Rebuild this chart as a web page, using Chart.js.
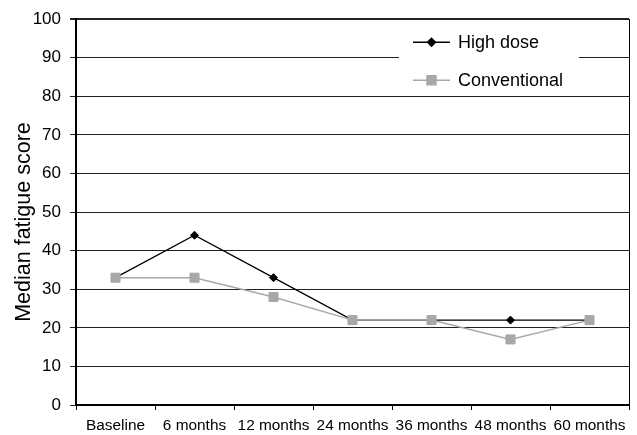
<!DOCTYPE html>
<html>
<head>
<meta charset="utf-8">
<script src="https://cdn.jsdelivr.net/npm/chart.js@4"></script>
<style>
  html,body{margin:0;padding:0;background:#fff;}
  #wrap{width:637px;height:435px;position:relative;}
</style>
</head>
<body>
<div id="wrap"><canvas id="c"></canvas></div>
<script>
// ── Data ──────────────────────────────────────────────────────────────────────
const categories   = ['Baseline','6 months','12 months','24 months','36 months','48 months','60 months'];
const highDose     = [33, 44, 33, 22, 22, 22, 22];
const conventional = [33, 33, 28, 22, 22, 17, 22];
const yMin = 0, yMax = 100, yStep = 10;
const yTitle = 'Median fatigue score';

const FONT = '"Liberation Sans", Arial, Helvetica, sans-serif';
const BLACK = '#000', GREY = '#a8a8a8';

// ── Legend drawn inside the plot (top right, white box over the grid) ─────────
const insideLegend = {
  id: 'insideLegend',
  beforeDatasetsDraw(chart) {
    const ctx = chart.ctx, ca = chart.chartArea;
    const bx = ca.right - 230, by = ca.top + 4, bw = 180, bh = 72;
    ctx.save();
    ctx.fillStyle = '#fff';
    ctx.fillRect(bx, by, bw, bh);
    const items = [
      { text: 'High dose',    color: BLACK, style: 'rectRot', r: 4 },
      { text: 'Conventional', color: GREY,  style: 'rect',    r: 6.4 }
    ];
    items.forEach((it, i) => {
      const y = by + 19 + i * 38, x0 = bx + 14, x1 = bx + 51;
      ctx.strokeStyle = it.color; ctx.lineWidth = 1.4;
      ctx.beginPath(); ctx.moveTo(x0, y); ctx.lineTo(x1, y); ctx.stroke();
      ctx.fillStyle = it.color;
      Chart.helpers.drawPoint(ctx, { pointStyle: it.style, radius: it.r, borderWidth: 1 }, (x0 + x1) / 2, y);
      ctx.fillStyle = '#000';
      ctx.font = '18px ' + FONT;
      ctx.textAlign = 'left'; ctx.textBaseline = 'middle';
      ctx.fillText(it.text, x1 + 8, y + 1);
    });
    ctx.restore();
  }
};

// ── Y title, centred a little below the plot middle as in the source ─────────
const yTitlePlugin = {
  id: 'yTitlePlugin',
  afterDraw(chart) {
    const ctx = chart.ctx;
    ctx.save();
    ctx.translate(24, 222);
    ctx.rotate(-Math.PI / 2);
    ctx.fillStyle = '#000';
    ctx.font = '21.5px ' + FONT;
    ctx.textAlign = 'center'; ctx.textBaseline = 'middle';
    ctx.fillText(yTitle, 0, 0);
    ctx.restore();
  }
};

new Chart(document.getElementById('c').getContext('2d'), {
  type: 'line',
  data: {
    labels: categories,
    datasets: [
      { label: 'High dose', data: highDose, order: 1,
        borderColor: BLACK, backgroundColor: BLACK, borderWidth: 1.3,
        pointStyle: 'rectRot', pointRadius: 4, pointBorderWidth: 1, tension: 0 },
      { label: 'Conventional', data: conventional, order: 0,
        borderColor: GREY, backgroundColor: GREY, borderWidth: 1.5,
        pointStyle: 'rect', pointRadius: 6.4, pointBorderWidth: 1, tension: 0 }
    ]
  },
  options: {
    responsive: true,
    maintainAspectRatio: false,
    animation: false,
    layout: { padding: { top: 18, right: 8, bottom: 0, left: 0 } },
    plugins: { legend: { display: false }, tooltip: { enabled: false } },
    scales: {
      x: {
        offset: true,
        grid: { display: true, offset: true, drawOnChartArea: false, drawTicks: true, tickLength: 5, color: BLACK, lineWidth: 1 },
        border: { display: true, color: BLACK, width: 2 },
        ticks: { color: '#000', font: { family: FONT, size: 15.4 }, padding: 7, maxRotation: 0, autoSkip: false },
        afterFit: s => { s.height = 30; }
      },
      y: {
        min: yMin, max: yMax,
        grid: { color: '#222', lineWidth: c => (c.tick && c.tick.value === yMax ? 2 : 1), tickLength: 6 },
        border: { display: true, color: BLACK, width: 2 },
        ticks: { stepSize: yStep, color: '#000', font: { family: FONT, size: 17 }, padding: 9 },
        afterFit: s => { s.width = 76; }
      },
      y2: {
        position: 'right', min: yMin, max: yMax,
        grid: { display: false },
        border: { display: true, color: BLACK, width: 1 },
        ticks: { display: false },
        afterFit: s => { s.width = 0; }
      }
    }
  },
  plugins: [insideLegend, yTitlePlugin]
});
</script>
</body>
</html>
